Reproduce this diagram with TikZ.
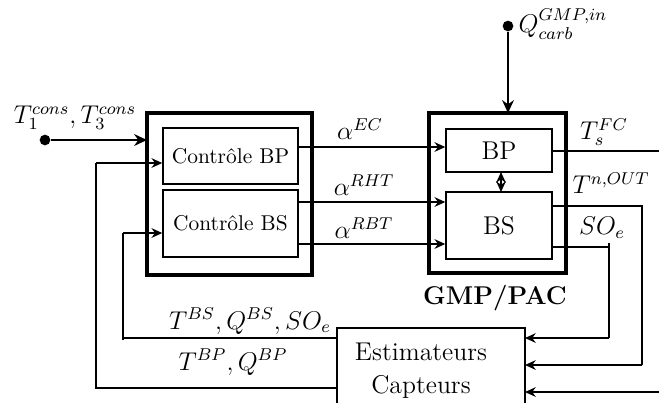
\documentclass[tikz,border=0pt]{standalone}
\usetikzlibrary{arrows.meta}
\begin{document}
\begin{tikzpicture}[x=0.467pt,y=-0.467pt,
  thinline/.style={line width=0.7pt},
  bigbox/.style={draw,line width=1.9pt},
  smallbox/.style={draw,line width=0.7pt},
  arr/.style={thinline,-{Stealth[length=5pt,width=4.5pt]}},
  thickarr/.style={line width=1.2pt,-{Stealth[length=6pt,width=5.5pt]}},
  lbl/.style={font=\large,inner sep=1pt},
  dot/.style={circle,fill=black,inner sep=0pt,minimum size=5pt}]
\useasboundingbox (0,0) rectangle (659,403);
% controller boxes
\draw[bigbox] (147,113) rectangle (312,275);
\node[smallbox,minimum width=135*0.467pt,minimum height=56*0.467pt] (cbp) at (230.5,156) {Contrôle BP};
\node[smallbox,minimum width=135*0.467pt,minimum height=67*0.467pt] (cbs) at (230.5,223.5) {Contrôle BS};
\coordinate (ctrlW) at (147,140);
% GMP boxes
\draw[bigbox] (429,113) rectangle (566,273);
\coordinate (gmpN) at (508,113);
\node[smallbox,font=\large,minimum width=106*0.467pt,minimum height=43*0.467pt] (bp) at (499,150.5) {BP};
\node[smallbox,font=\large,minimum width=106*0.467pt,minimum height=67*0.467pt] (bs) at (499,225.5) {BS};
\node[font=\large\bfseries] (gmplbl) at (495,298) {GMP/PAC};
% estimator
\draw[thinline] (337,403) -- (337,328) -- (525,328) -- (525,403);
\node[font=\large] (est1) at (421,352) {Estimateurs};
\node[font=\large] (est2) at (421,387) {Capteurs};
\coordinate (e1) at (337,338);
\coordinate (e2) at (337,388);
\coordinate (r1) at (525,338);
\coordinate (r2) at (525,365);
\coordinate (r3) at (525,392);
% inputs
\node[dot] (d1) at (45,140) {};
\node[lbl] (l1) at (75,118) {$T_1^{cons},T_3^{cons}$};
\draw[thickarr] (d1) -- (ctrlW);
\node[dot] (d2) at (508,26) {};
\node[lbl,anchor=west] (l2) at (516,24) {$Q_{carb}^{GMP,in}$};
\draw[thickarr] (d2) -- (gmpN);
% controller to GMP
\draw[arr] (cbp.east |- 0,147) -- (bp.west |- 0,147);
\draw[arr] (cbs.east |- 0,202) -- (bs.west |- 0,202);
\draw[arr] (cbs.east |- 0,244) -- (bs.west |- 0,244);
\node[lbl] (aec) at (360,129) {$\alpha^{EC}$};
\node[lbl] (arht) at (364,185) {$\alpha^{RHT}$};
\node[lbl] (arbt) at (364,228) {$\alpha^{RBT}$};
% BP <-> BS
\draw[thinline,{Stealth[length=5pt,width=4.5pt]}-{Stealth[length=5pt,width=4.5pt]}] (501,172) -- (501,192);
% outputs
\coordinate (o1) at (659,151);
\draw[thinline] (bp.east |- 0,151) -- (o1);
\node[lbl] (tfc) at (604,132) {$T_s^{FC}$};
\draw[thinline] (bs.east |- 0,206) -- (642,206) -- (642,365);
\draw[arr] (642,365) -- (r2);
\node[lbl] (tnout) at (611,183) {$T^{n,OUT}$};
\draw[thinline] (bs.east |- 0,247) -- (609,247);
\draw[thinline] (609,243) -- (609,338);
\draw[arr] (609,338) -- (r1);
\node[lbl] (soe) at (602,228) {$SO_e$};
\coordinate (o3) at (659,392);
\draw[arr] (o3) -- (r3);
% feedback
\draw[thinline] (e1) -- (123,338) -- (123,233);
\draw[arr] (123,233) -- (cbs.west |- 0,233);
\draw[thinline] (123,340) -- (123,338);
\draw[thinline] (e2) -- (96,388) -- (96,163);
\draw[arr] (96,163) -- (cbp.west |- 0,163);
\node[lbl] (fb1) at (250,321) {$T^{BS},Q^{BS},SO_e$};
\node[lbl] (fb2) at (233,362) {$T^{BP},Q^{BP}$};
\end{tikzpicture}
\end{document}
